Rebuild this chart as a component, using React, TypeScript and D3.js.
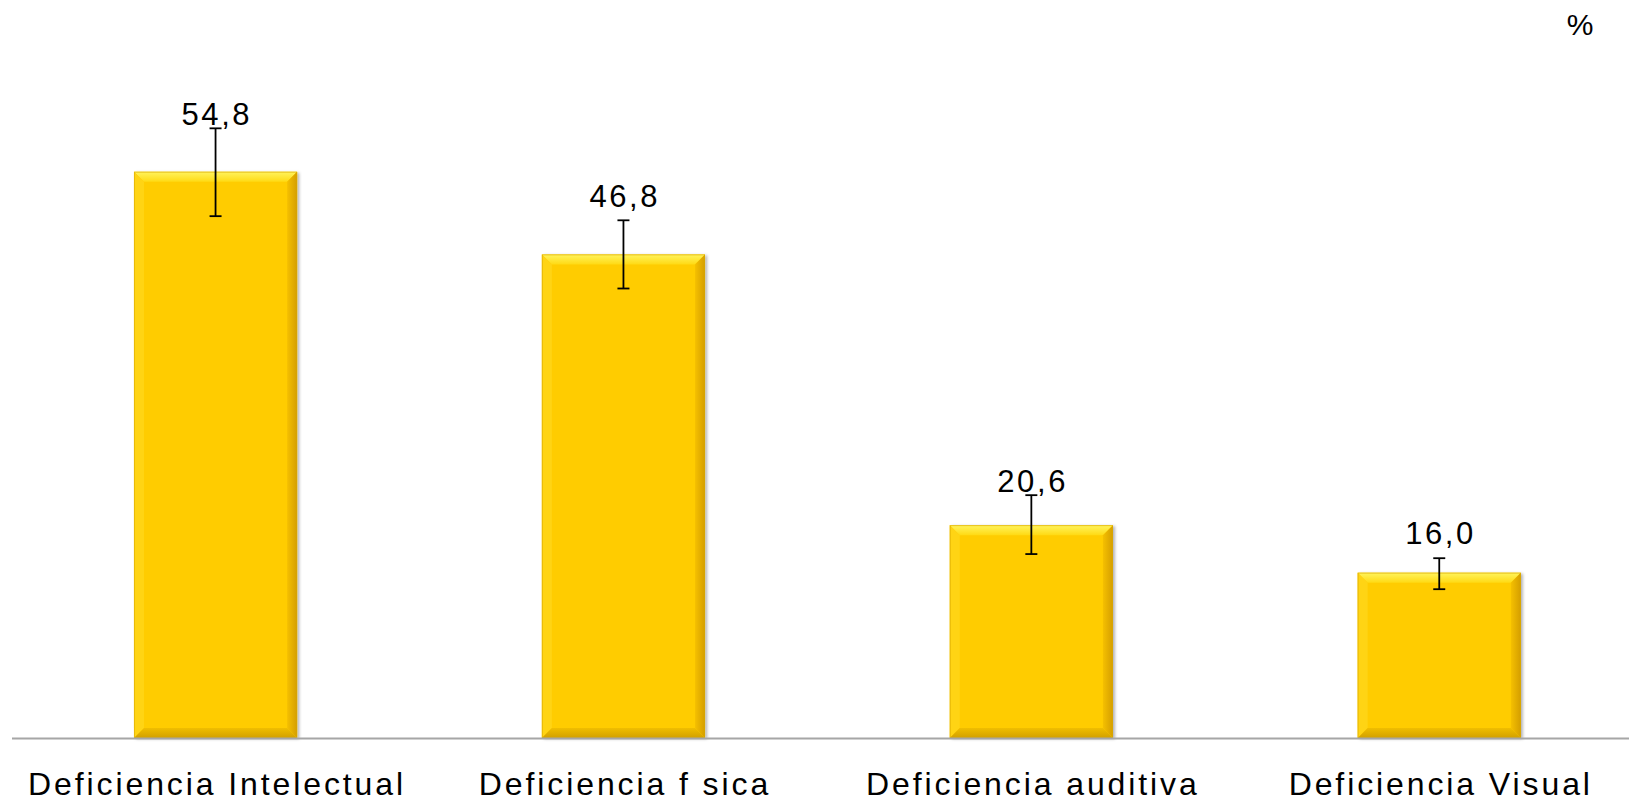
import React from "react";
import * as d3 from "d3";

const categories = [
  "Deficiencia Intelectual",
  "Deficiencia f sica",
  "Deficiencia auditiva",
  "Deficiencia Visual",
];
const values = [54.8, 46.8, 20.6, 16.0];
const errLow = [50.5, 43.5, 17.8, 14.4];
const errHigh = [59.0, 50.1, 23.5, 17.4];
const labelAt = [59.3, 51.4, 23.8, 18.8];
const valueLabels = ["54,8", "46,8", "20,6", "16,0"];
const unitLabel = "%";

const W = 1629;
const H = 803;
const FONT = "'Liberation Sans', Arial, sans-serif";

export default function App() {
  const x = d3
    .scaleBand<string>()
    .domain(categories)
    .range([11.6, 1643.2])
    .paddingInner(0.6)
    .paddingOuter(0.3);
  const y = d3.scaleLinear().domain([0, 60]).range([738, 118]);
  const bw = x.bandwidth();
  const bv = 10;

  return (
    <svg
      width={W}
      height={H}
      style={{ position: "absolute", left: 0, top: 0, background: "#fff" }}
    >
      <defs>
        <linearGradient id="topBevel" x1="0" y1="0" x2="0" y2="1">
          <stop offset="0" stopColor="#FFF45E" />
          <stop offset="1" stopColor="#FFDA14" />
        </linearGradient>
        <linearGradient id="rightBevel" x1="0" y1="0" x2="1" y2="0">
          <stop offset="0" stopColor="#F5C000" />
          <stop offset="1" stopColor="#D49E00" />
        </linearGradient>
        <linearGradient id="bottomBevel" x1="0" y1="0" x2="0" y2="1">
          <stop offset="0" stopColor="#F0BE00" />
          <stop offset="1" stopColor="#D2A000" />
        </linearGradient>
        <filter id="shadow" x="-10%" y="-10%" width="130%" height="130%">
          <feDropShadow dx="2" dy="1" stdDeviation="1.5" floodColor="#000" floodOpacity="0.3" />
        </filter>
      </defs>

      {categories.map((c, i) => {
        const x0 = x(c) as number;
        const x1 = x0 + bw;
        const yt = y(values[i]);
        const yb = y(0);
        return (
          <g key={c}>
            <rect x={x0} y={yt} width={bw} height={yb - yt} fill="#FFCC00" filter="url(#shadow)" />
            <polygon
              points={`${x0},${yt} ${x1},${yt} ${x1 - bv},${yt + bv} ${x0 + bv},${yt + bv}`}
              fill="url(#topBevel)"
            />
            <polygon
              points={`${x0},${yt} ${x0 + bv},${yt + bv} ${x0 + bv},${yb - bv} ${x0},${yb}`}
              fill="#FFD414"
            />
            <polygon
              points={`${x1},${yt} ${x1},${yb} ${x1 - bv},${yb - bv} ${x1 - bv},${yt + bv}`}
              fill="url(#rightBevel)"
            />
            <polygon
              points={`${x0},${yb} ${x0 + bv},${yb - bv} ${x1 - bv},${yb - bv} ${x1},${yb}`}
              fill="url(#bottomBevel)"
            />
            <rect x={x0 + 0.5} y={yt + 0.5} width={bw - 1} height={yb - yt - 1} fill="none" stroke="#D9A600" strokeWidth={1} strokeOpacity={0.6} />
          </g>
        );
      })}

      <line x1={12} x2={W} y1={y(0) + 0.5} y2={y(0) + 0.5} stroke="#A6A6A6" strokeWidth={1.8} />

      {categories.map((c, i) => {
        const cx = (x(c) as number) + bw / 2;
        const yh = y(errHigh[i]);
        const yl = y(errLow[i]);
        return (
          <g key={"e" + c} stroke="#000" strokeWidth={1.8}>
            <line x1={cx} x2={cx} y1={yh} y2={yl} />
            <line x1={cx - 6} x2={cx + 6} y1={yh} y2={yh} />
            <line x1={cx - 6} x2={cx + 6} y1={yl} y2={yl} />
          </g>
        );
      })}

      {categories.map((c, i) => {
        const cx = (x(c) as number) + bw / 2;
        return (
          <text
            key={"v" + c}
            x={cx + 1.3}
            y={y(labelAt[i])}
            textAnchor="middle"
            fontFamily={FONT}
            fontSize={31}
            letterSpacing={2.6}
            fill="#000"
          >
            {valueLabels[i]}
          </text>
        );
      })}

      {categories.map((c) => {
        const cx = (x(c) as number) + bw / 2;
        return (
          <text
            key={"c" + c}
            x={cx + 1.5}
            y={795}
            textAnchor="middle"
            fontFamily={FONT}
            fontSize={32}
            letterSpacing={2.9}
            fill="#000"
          >
            {c}
          </text>
        );
      })}

      <text x={1580} y={35} textAnchor="middle" fontFamily={FONT} fontSize={30} fill="#000">
        {unitLabel}
      </text>
    </svg>
  );
}
